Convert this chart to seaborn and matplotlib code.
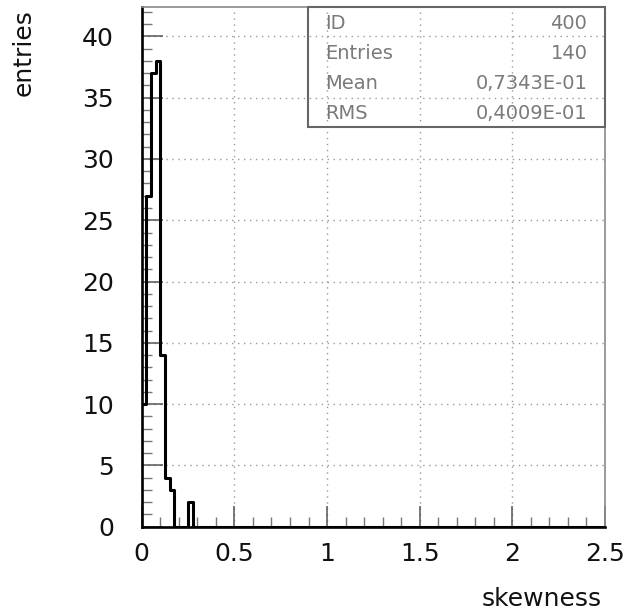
import numpy as np
import pandas as pd
import matplotlib
matplotlib.use("Agg")
import matplotlib.pyplot as plt
from matplotlib.ticker import MultipleLocator
import seaborn as sns

# histogram content (bin width 0.025, starting at 0)
bin_width = 0.025
counts = [10, 27, 37, 38, 14, 4, 3, 0, 0, 0, 2]

stat_names = ["ID", "Entries", "Mean", "RMS"]
stat_values = ["400", "140", "0,7343E-01", "0,4009E-01"]

centers = [(i + 0.5) * bin_width for i in range(len(counts))]
df = pd.DataFrame({"skewness": centers, "n": counts})

sns.set_style("white")
plt.rcParams["font.family"] = ["DejaVu Sans"]

fig = plt.figure(figsize=(6.26, 6.13), dpi=100)
ax = fig.add_axes([0.2264, 0.1408, 0.7401, 0.8478])

sns.histplot(data=df, x="skewness", weights="n", bins=100, binrange=(0, 2.5),
             element="step", fill=False, color="black", linewidth=2.2, ax=ax)

ax.set_xlim(0, 2.5)
ax.set_ylim(0, 42.4)
ax.xaxis.set_major_locator(MultipleLocator(0.5))
ax.xaxis.set_minor_locator(MultipleLocator(0.1))
ax.yaxis.set_major_locator(MultipleLocator(5))
ax.yaxis.set_minor_locator(MultipleLocator(1))
ax.set_xticks([0, 0.5, 1, 1.5, 2, 2.5])
ax.set_xticklabels(["0", "0.5", "1", "1.5", "2", "2.5"])

ax.grid(True, which="major", color="#9a9a9a", linestyle=(0, (1, 3.3)), linewidth=1.0)
ax.set_axisbelow(True)

ax.tick_params(which="both", bottom=True, left=True, top=False, right=False)
ax.tick_params(which="major", direction="in", length=15, width=1.1, color="#555555",
               labelsize=18, labelcolor="#111111")
ax.tick_params(which="minor", direction="in", length=7.5, width=1.0, color="#777777")
ax.tick_params(axis="y", which="major", pad=20)
ax.tick_params(axis="x", which="major", pad=11)

for side in ["left", "bottom"]:
    ax.spines[side].set_color("black")
    ax.spines[side].set_linewidth(1.9)
    ax.spines[side].set_zorder(4)
for side in ["top", "right"]:
    ax.spines[side].set_visible(True)
    ax.spines[side].set_color("#8a8a8a")
    ax.spines[side].set_linewidth(1.2)
    ax.spines[side].set_zorder(4)

ax.set_xlabel("")
ax.set_ylabel("")
fig.text(602 / 626, 1 - 606 / 613, "skewness", ha="right", va="baseline",
         fontsize=18, color="#111111")
fig.text(24 / 626, 1 - 9 / 613, "entries", rotation=90, ha="center", va="top",
         fontsize=18, color="#111111")

# statistics box, top right
x0, y0 = 0.359, 0.769
ax.add_patch(plt.Rectangle((x0, y0), 1 - x0, 1 - y0, transform=ax.transAxes,
                           fill=False, edgecolor="#666666", linewidth=1.5,
                           clip_on=False, zorder=5))
row_h = (1 - y0) / len(stat_names)
for i, (name, val) in enumerate(zip(stat_names, stat_values)):
    yy = 1 - (i + 0.55) * row_h
    ax.text(x0 + 0.036, yy, name, transform=ax.transAxes, ha="left", va="center",
            fontsize=14, color="#7a7a7a", zorder=6)
    ax.text(0.962, yy, val, transform=ax.transAxes, ha="right", va="center",
            fontsize=14, color="#7a7a7a", zorder=6)

fig.savefig("out.png", dpi=100, facecolor="white")
